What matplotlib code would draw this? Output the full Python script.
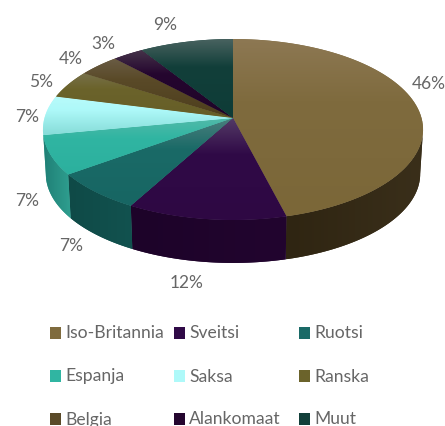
import numpy as np
import matplotlib
matplotlib.use("Agg")
import matplotlib.pyplot as plt
from matplotlib.colors import LinearSegmentedColormap
from matplotlib.patches import Polygon, Rectangle

#data
maat = ["Iso-Britannia", "Sveitsi", "Ruotsi", "Espanja", "Saksa", "Ranska", "Belgia", "Alankomaat", "Muut"]
osuudet = [46, 12, 7, 7, 7, 5, 4, 3, 9]
otsikot = ["46%", "12%", "7%", "7%", "7%", "5%", "4%", "3%", "9%"]

#colours: top of slice, middle, bottom of slice, side left, side right
ylavarit = [
    ["#8d7853", "#7f6b3e", "#7b6738"],
    ["#533a66", "#300a47", "#2e0843"],
    ["#4a7f7d", "#1a6a67", "#176663"],
    ["#52baa9", "#30b5a2", "#2cb09e"],
    ["#b8fbfb", "#aef9f9", "#86dcd8"],
    ["#77704a", "#6b632b", "#665e27"],
    ["#6a5c45", "#5a4a28", "#4d3e1c"],
    ["#453349", "#25062f", "#1f0428"],
    ["#48625f", "#123f3a", "#0e3c37"],
]
sivuvarit = [
    ["#3a2f1a", "#2f2512"],
    ["#22052f", "#1d0329"],
    ["#12524f", "#0f4a47"],
    ["#2f9f90", "#1f7f75"],
    ["#86dcd8", "#86dcd8"],
    ["#4a4520", "#4a4520"],
    ["#3a2f15", "#3a2f15"],
    ["#1a0320", "#1a0320"],
    ["#0a2a26", "#0a2a26"],
]
tekstivari = "#666666"
fontti = "Lato"

#pie geometry in pixels
kx, ky = 233, 118
sx, sy = 188.5, 89.0
k = 0.127
syvyys = 44.5
kutistus = 0.985


def reuna(kulma, alempi=False):
    #perspective projection of a point on the pie rim, kulma clockwise from top
    u = np.sin(kulma)
    v = np.cos(kulma)
    w = 1 + k * v
    x = sx * u / w
    y = -sy * v / w
    if alempi:
        return kx + x * kutistus, ky + syvyys + y * kutistus
    return kx + x, ky + y


def liuku(ax, polku, varit, pysty=True):
    #gradient image clipped to a polygon, flat polygon below keeps the edge smooth
    ax.add_patch(Polygon(polku, closed=True, fc=varit[len(varit) // 2], ec="none", zorder=2))
    if len(varit) == 3:
        cmap = LinearSegmentedColormap.from_list("v", list(zip([0, 0.35, 1], varit)))
    else:
        cmap = LinearSegmentedColormap.from_list("v", varit)
    x0, y0 = polku.min(axis=0)
    x1, y1 = polku.max(axis=0)
    g = np.linspace(0, 1, 128)
    g = g[:, None] if pysty else g[None, :]
    kuva = ax.imshow(g, cmap=cmap, extent=[x0, x1, y1, y0], aspect="auto", zorder=3, interpolation="bilinear")
    kuva.set_clip_path(Polygon(polku, closed=True, transform=ax.transData))


fig = plt.figure(figsize=(4.45, 4.26), dpi=100)
ax = fig.add_axes([0, 0, 1, 1])

#angles of slices
rajat = np.cumsum([0] + osuudet) / np.sum(osuudet) * 2 * np.pi
oikea = np.arccos(-k)
vasen = 2 * np.pi - oikea

#side walls
for i in range(len(osuudet)):
    a = max(rajat[i], oikea)
    b = min(rajat[i + 1], vasen)
    if b <= a:
        continue
    t = np.linspace(a, b, 60)
    yla = np.array([reuna(q) for q in t])
    ala = np.array([reuna(q, True) for q in t[::-1]])
    # image runs left to right, slices go right to left along the front
    liuku(ax, np.vstack([yla, ala]), sivuvarit[i][::-1], pysty=False)

#top surface
for i in range(len(osuudet)):
    t = np.linspace(rajat[i], rajat[i + 1], 80)
    polku = np.vstack([[kx, ky], [reuna(q) for q in t]])
    liuku(ax, polku, ylavarit[i])

ax.set_xlim(0, 445)
ax.set_ylim(426, 0)
ax.axis("off")

#percent labels
otsikko_xy = [(429, 84), (187, 283), (71, 246), (27, 201), (27, 117), (41, 82), (71, 59), (103, 44), (165, 25)]
for teksti, (x, y) in zip(otsikot, otsikko_xy):
    ax.text(x, y, teksti, color=tekstivari, fontsize=12.5, ha="center", va="center", family=fontti)

#legend
sarakkeet = [50, 174, 299]
rivit = [327, 370, 413]
for i, nimi in enumerate(maat):
    x = sarakkeet[i % 3]
    y = rivit[i // 3]
    ax.add_patch(Rectangle((x, y), 11, 11.5, fc=ylavarit[i][1], ec="none", zorder=4))
    ax.text(x + 15, y + 11.5, nimi, color=tekstivari, fontsize=12.6, ha="left", va="baseline", family=fontti)

fig.savefig("out.png", dpi=100)
